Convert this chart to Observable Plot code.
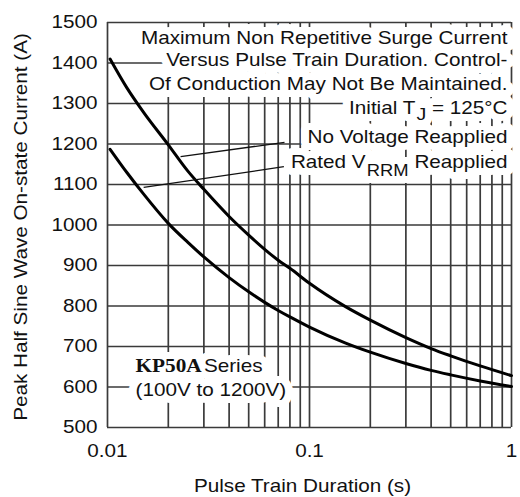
<!DOCTYPE html>
<html>
<head>
<meta charset="utf-8">
<script src="https://cdn.jsdelivr.net/npm/d3@7"></script>
<script src="https://cdn.jsdelivr.net/npm/@observablehq/plot@0.6"></script>
<style>
  html, body { margin: 0; padding: 0; background: #fff; }
  #chart { width: 520px; height: 497px; }
</style>
</head>
<body>
<div id="chart"></div>
<script>
// ---- data ----
const seriesNames = ["No Voltage Reapplied", "Rated VRRM Reapplied"];

const noVoltageX = [0.0103, 0.0125, 0.015, 0.02, 0.025, 0.03, 0.04, 0.05, 0.06, 0.07, 0.08, 0.1, 0.15, 0.2, 0.3, 0.4, 0.5, 0.7, 1];
const noVoltageY = [1410, 1338, 1280, 1198, 1133, 1088, 1021, 975, 940, 913, 893, 856, 799, 765, 722, 695, 677, 652, 628];

const ratedX = [0.0103, 0.0125, 0.015, 0.02, 0.025, 0.03, 0.04, 0.05, 0.06, 0.07, 0.08, 0.1, 0.15, 0.2, 0.3, 0.4, 0.5, 0.7, 1];
const ratedY = [1187, 1129, 1078, 1004, 957, 921, 870, 835, 809, 789, 773, 748, 709, 686, 658, 641, 630, 615, 601];

const xTicks = [0.01, 0.1, 1];
const xTickLabels = ["0.01", "0.1", "1"];
const xGrid = [0.01, 0.02, 0.03, 0.04, 0.05, 0.06, 0.07, 0.08, 0.09,
               0.1, 0.2, 0.3, 0.4, 0.5, 0.6, 0.7, 0.8, 0.9, 1];
const yTicks = [500, 600, 700, 800, 900, 1000, 1100, 1200, 1300, 1400, 1500];
const yTickLabels = ["500", "600", "700", "800", "900", "1000", "1100", "1200", "1300", "1400", "1500"];

const xLabel = "Pulse Train Duration (s)";
const yLabel = "Peak Half Sine Wave On-state Current (A)";

const noteTexts = [
  "Maximum Non Repetitive Surge Current",
  "Versus Pulse Train Duration. Control-",
  "Of Conduction May Not Be Maintained.",
  "Initial T_{J} = 125°C",
  "No Voltage Reapplied",
  "Rated V_{RRM} Reapplied"
];
const noteY = [1462, 1406, 1348, 1288, 1216, 1154];

const seriesLabelTexts = ["*{KP50A}Series", "(100V to 1200V)"];
const seriesLabelY = [651, 591];

// leader lines (data coordinates)
const leaderX1 = [0.0230, 0.0151];
const leaderY1 = [1169, 1093];
const leaderX2 = [0.0752, 0.0747];
const leaderY2 = [1204, 1144];

// ---- build tables ----
const rows = [
  ...noVoltageX.map((x, i) => ({series: seriesNames[0], x, y: noVoltageY[i]})),
  ...ratedX.map((x, i) => ({series: seriesNames[1], x, y: ratedY[i]}))
];
const notes = noteTexts.map((t, i) => ({text: t, y: noteY[i]}));
const seriesLabels = seriesLabelTexts.map((t, i) => ({text: t, y: seriesLabelY[i]}));
const leaders = leaderX1.map((x, i) => ({x1: x, y1: leaderY1[i], x2: leaderX2[i], y2: leaderY2[i]}));

const FONT = "'Liberation Sans', Arial, Helvetica, sans-serif";
const INK = "#111";
const GRID = "#3a3a3a";

const noteOpts = {text: "text", y: "y", frameAnchor: "right", textAnchor: "end", lineAnchor: "middle", dx: -4, fontSize: 18};
const labelOpts = {text: "text", y: "y", frameAnchor: "left", textAnchor: "start", lineAnchor: "middle", dx: 28, fontSize: 18};
const halo = {fill: "#fff", stroke: "#fff", strokeWidth: 14, strokeLinejoin: "round"};

const chart = Plot.plot({
  width: 520,
  height: 497,
  marginLeft: 107,
  marginRight: 9,
  marginTop: 22,
  marginBottom: 70,
  style: {fontFamily: FONT, fontSize: "18px", color: INK, background: "#fff"},
  x: {type: "log", domain: [0.01, 1]},
  y: {domain: [500, 1500]},
  marks: [
    Plot.ruleX(xGrid, {stroke: GRID, strokeWidth: 1.7}),
    Plot.ruleY(yTicks, {stroke: GRID, strokeWidth: 1.7}),
    Plot.line(rows, {x: "x", y: "y", z: "series", stroke: "#000", strokeWidth: 3, curve: "monotone-x"}),
    Plot.axisX({ticks: xTicks, tickFormat: d => xTickLabels[xTicks.indexOf(d)], tickSize: 0, tickPadding: 17, label: null, fontSize: 18}),
    Plot.axisY({ticks: yTicks, tickFormat: d => yTickLabels[yTicks.indexOf(d)], tickSize: 0, tickPadding: 10, label: null, fontSize: 18}),
    // white backing of the annotation texts, then the ink
    Plot.text(notes, {...noteOpts, ...halo}),
    Plot.text(seriesLabels, {...labelOpts, ...halo}),
    Plot.text(notes, {...noteOpts, fill: INK}),
    Plot.text(seriesLabels, {...labelOpts, fill: INK}),
    Plot.link(leaders, {x1: "x1", y1: "y1", x2: "x2", y2: "y2", stroke: INK, strokeWidth: 1.3}),
    Plot.text([xLabel], {text: d => d, frameAnchor: "bottom", textAnchor: "middle", lineAnchor: "middle", dx: -7, dy: 59, fontSize: 18, fill: INK}),
    Plot.text([yLabel], {text: d => d, frameAnchor: "left", textAnchor: "middle", lineAnchor: "middle", rotate: -90, dx: -86, dy: 2, fontSize: 18, fill: INK})
  ]
});

document.getElementById("chart").appendChild(chart);

// rich text: subscripts and the serif series code
d3.select(chart).selectAll("text").each(function () {
  const t = this.textContent;
  if (!t.includes("_{") && !t.includes("*{")) return;
  const sel = d3.select(this);
  sel.text(null);
  const parts = t.split(/(_\{[^}]*\}|\*\{[^}]*\})/);
  let pendingShift = 0;
  let pendingDx = 0;
  for (const p of parts) {
    if (!p) continue;
    const sub = p.match(/^_\{(.*)\}$/);
    const ser = p.match(/^\*\{(.*)\}$/);
    if (sub) {
      const big = sub[1].length > 1;
      const shift = big ? 8 : 6;
      sel.append("tspan").attr("dy", shift).attr("dx", 1).attr("font-size", big ? 16 : 17).text(sub[1]);
      pendingShift = -shift;
    } else if (ser) {
      sel.append("tspan")
        .attr("font-family", "'Liberation Serif', 'Times New Roman', serif")
        .attr("font-weight", "bold")
        .attr("font-size", 18.5)
        .text(ser[1]);
      pendingDx = 2;
    } else {
      const ts = sel.append("tspan").text(p);
      if (pendingShift) { ts.attr("dy", pendingShift); pendingShift = 0; }
      if (pendingDx) { ts.attr("dx", pendingDx); pendingDx = 0; }
    }
  }
});

// the reference lettering is slightly wide: stretch each text along its run
const STRETCH = 1.15;
chart.querySelectorAll("text").forEach(t => {
  const tr = t.getAttribute("transform");
  if (tr) {
    t.setAttribute("transform", tr + ` scale(${STRETCH},1)`);
  } else {
    const x = +(t.getAttribute("x") || 0), y = +(t.getAttribute("y") || 0);
    t.removeAttribute("x"); t.removeAttribute("y");
    t.setAttribute("transform", `translate(${x},${y}) scale(${STRETCH},1)`);
  }
});
</script>
</body>
</html>
